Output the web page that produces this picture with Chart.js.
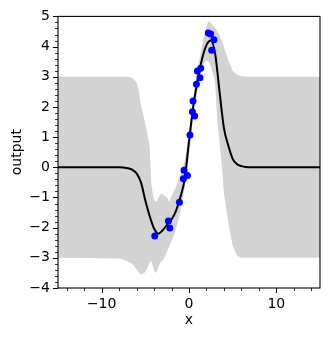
<!DOCTYPE html>
<html lang="en">
<head>
  <meta charset="UTF-8">
  <title>GP output</title>
  <script src="https://cdn.jsdelivr.net/npm/chart.js"></script>
  <style>
    body {
      margin: 0;
      background: white;
    }
  </style>
</head>
<body>
  <canvas id="miCanvas" width="329" height="339"></canvas>

  <script>
    // observed points
    const obsX = [-3.92, -2.36, -2.2, -1.1, -0.64, -0.57, -0.18, 0.11, 0.39, 0.65, 0.46, 0.85, 0.96, 1.26, 1.34, 2.21, 2.48, 2.86, 2.6];
    const obsY = [-2.28, -1.78, -2.01, -1.16, -0.38, -0.1, -0.27, 1.07, 1.84, 1.7, 2.2, 2.75, 3.19, 2.97, 3.28, 4.45, 4.42, 4.23, 3.88];

    // predictive mean
    const meanX = [-15, -10, -8, -7.5, -7, -6.5, -6, -5.5, -5, -4.5, -4, -3.5, -3, -2.5, -2, -1.5, -1, -0.5, 0, 0.5, 1, 1.5, 2, 2.5, 3, 3.5, 4, 4.5, 5, 5.5, 6, 6.5, 7, 10, 15];
    const meanY = [0, 0, 0, -0.01, -0.03, -0.08, -0.2, -0.5, -1.1, -1.62, -2.03, -2.2, -2.08, -1.9, -1.73, -1.45, -1.0, -0.4, 0.85, 2.05, 2.9, 3.6, 4.05, 4.2, 3.75, 2.5, 1.3, 0.72, 0.28, 0.1, 0.04, 0.01, 0, 0, 0];

    // confidence band
    const bandX = [-15, -8, -7.5, -7, -6.5, -6, -5.75, -5.5, -5, -4.5, -4.3, -4, -3.75, -3.5, -3.25, -3, -2.75, -2.5, -2.25, -2, -1.5, -1, -0.5, 0, 0.5, 1, 1.5, 2, 2.25, 2.5, 2.75, 3, 3.25, 3.5, 3.75, 4, 4.5, 5, 5.5, 6, 6.5, 15];
    const bandUpper = [3, 3, 3, 3, 2.97, 2.82, 2.55, 2.05, 1.45, 0.7, -0.6, -1.1, -1.15, -1.0, -0.88, -0.9, -0.95, -1.0, -1.15, -0.95, -0.65, -0.25, 0.2, 1.1, 2.3, 3.3, 4.05, 4.7, 4.85, 4.8, 4.68, 4.62, 4.5, 4.38, 4.2, 3.97, 3.55, 3.2, 3.07, 3.02, 3.0, 3];
    const bandLower = [-3, -3.02, -3.06, -3.12, -3.2, -3.38, -3.48, -3.56, -3.48, -3.15, -3.1, -3.43, -3.5, -3.3, -3.15, -3.08, -2.95, -2.8, -2.6, -2.45, -2.05, -1.5, -0.7, 0.4, 1.7, 2.6, 3.3, 3.55, 3.5, 3.35, 3.1, 2.8, 1.5, 0.8, 0.1, -0.85, -1.85, -2.6, -2.93, -3.0, -3.0, -3];

    // ticks
    const xMajor = [-10, 0, 10];
    const xMinor = [-14, -12, -8, -6, -4, -2, 2, 4, 6, 8, 12, 14];
    const yMajor = [-4, -3, -2, -1, 0, 1, 2, 3, 4, 5];
    const yMinor = [];
    for (let i = -20; i <= 25; i++) {
      if (i % 5 != 0) yMinor.push(i / 5);
    }

    const pts = (xs, ys) => xs.map((x, i) => ({ x: x, y: ys[i] }));
    const fmt = (v) => String(v).replace('-', '\u2212');

    const axisDecor = {
      id: 'axisDecor',
      afterDraw(chart) {
        const { ctx, chartArea: a, scales: { x, y } } = chart;
        ctx.save();
        ctx.strokeStyle = '#000';
        ctx.lineWidth = 1;
        ctx.beginPath();
        xMajor.forEach(v => {
          const px = Math.round(x.getPixelForValue(v)) + 0.5;
          ctx.moveTo(px, a.bottom); ctx.lineTo(px, a.bottom + 5);
        });
        yMajor.forEach(v => {
          const py = Math.round(y.getPixelForValue(v)) + 0.5;
          ctx.moveTo(a.left, py); ctx.lineTo(a.left - 5, py);
        });
        ctx.stroke();
        ctx.lineWidth = 0.8;
        ctx.beginPath();
        xMinor.forEach(v => {
          const px = Math.round(x.getPixelForValue(v)) + 0.5;
          ctx.moveTo(px, a.bottom); ctx.lineTo(px, a.bottom + 3);
        });
        yMinor.forEach(v => {
          const py = Math.round(y.getPixelForValue(v)) + 0.5;
          ctx.moveTo(a.left, py); ctx.lineTo(a.left - 3, py);
        });
        ctx.stroke();
        ctx.lineWidth = 1.1;
        ctx.strokeRect(a.left, a.top, a.right - a.left, a.bottom - a.top);
        ctx.restore();
      }
    };

    Chart.defaults.font.family = 'DejaVu Sans';
    Chart.defaults.font.size = 14;
    Chart.defaults.color = '#000';

    const ctx = document.getElementById('miCanvas').getContext('2d');
    new Chart(ctx, {
      type: 'line',
      data: {
        datasets: [
          {
            data: pts(bandX, bandUpper),
            borderWidth: 0,
            borderColor: 'transparent',
            backgroundColor: '#d3d3d3',
            pointRadius: 0,
            fill: '+1',
            tension: 0,
            order: 3
          },
          {
            data: pts(bandX, bandLower),
            borderWidth: 0,
            borderColor: 'transparent',
            pointRadius: 0,
            fill: false,
            tension: 0,
            order: 3
          },
          {
            data: pts(meanX, meanY),
            borderColor: '#000',
            borderWidth: 2,
            pointRadius: 0,
            fill: false,
            cubicInterpolationMode: 'monotone',
            order: 2
          },
          {
            data: pts(obsX, obsY),
            showLine: false,
            pointRadius: 3.5,
            pointBackgroundColor: '#0000ff',
            pointBorderWidth: 0,
            order: 1
          }
        ]
      },
      options: {
        responsive: false,
        animation: false,
        devicePixelRatio: 1,
        layout: { padding: { top: 15, right: 9, left: 0, bottom: 0 } },
        plugins: {
          legend: { display: false },
          tooltip: { enabled: false }
        },
        scales: {
          x: {
            type: 'linear',
            min: -15,
            max: 15,
            grid: { display: false, drawTicks: false },
            border: { display: false },
            afterBuildTicks: (s) => { s.ticks = xMajor.map(v => ({ value: v })); },
            afterFit: (s) => { s.height = 51; },
            ticks: { padding: 8, maxRotation: 0, callback: fmt },
            title: { display: true, text: 'x', padding: { top: 0, bottom: 10 } }
          },
          y: {
            type: 'linear',
            min: -4,
            max: 5,
            grid: { display: false, drawTicks: false },
            border: { display: false },
            afterBuildTicks: (s) => { s.ticks = yMajor.map(v => ({ value: v })); },
            afterFit: (s) => { s.width = 58; },
            ticks: { padding: 8, callback: fmt },
            title: { display: true, text: 'output', padding: { top: 9, bottom: 0 } }
          }
        }
      },
      plugins: [axisDecor]
    });
  </script>
</body>
</html>
